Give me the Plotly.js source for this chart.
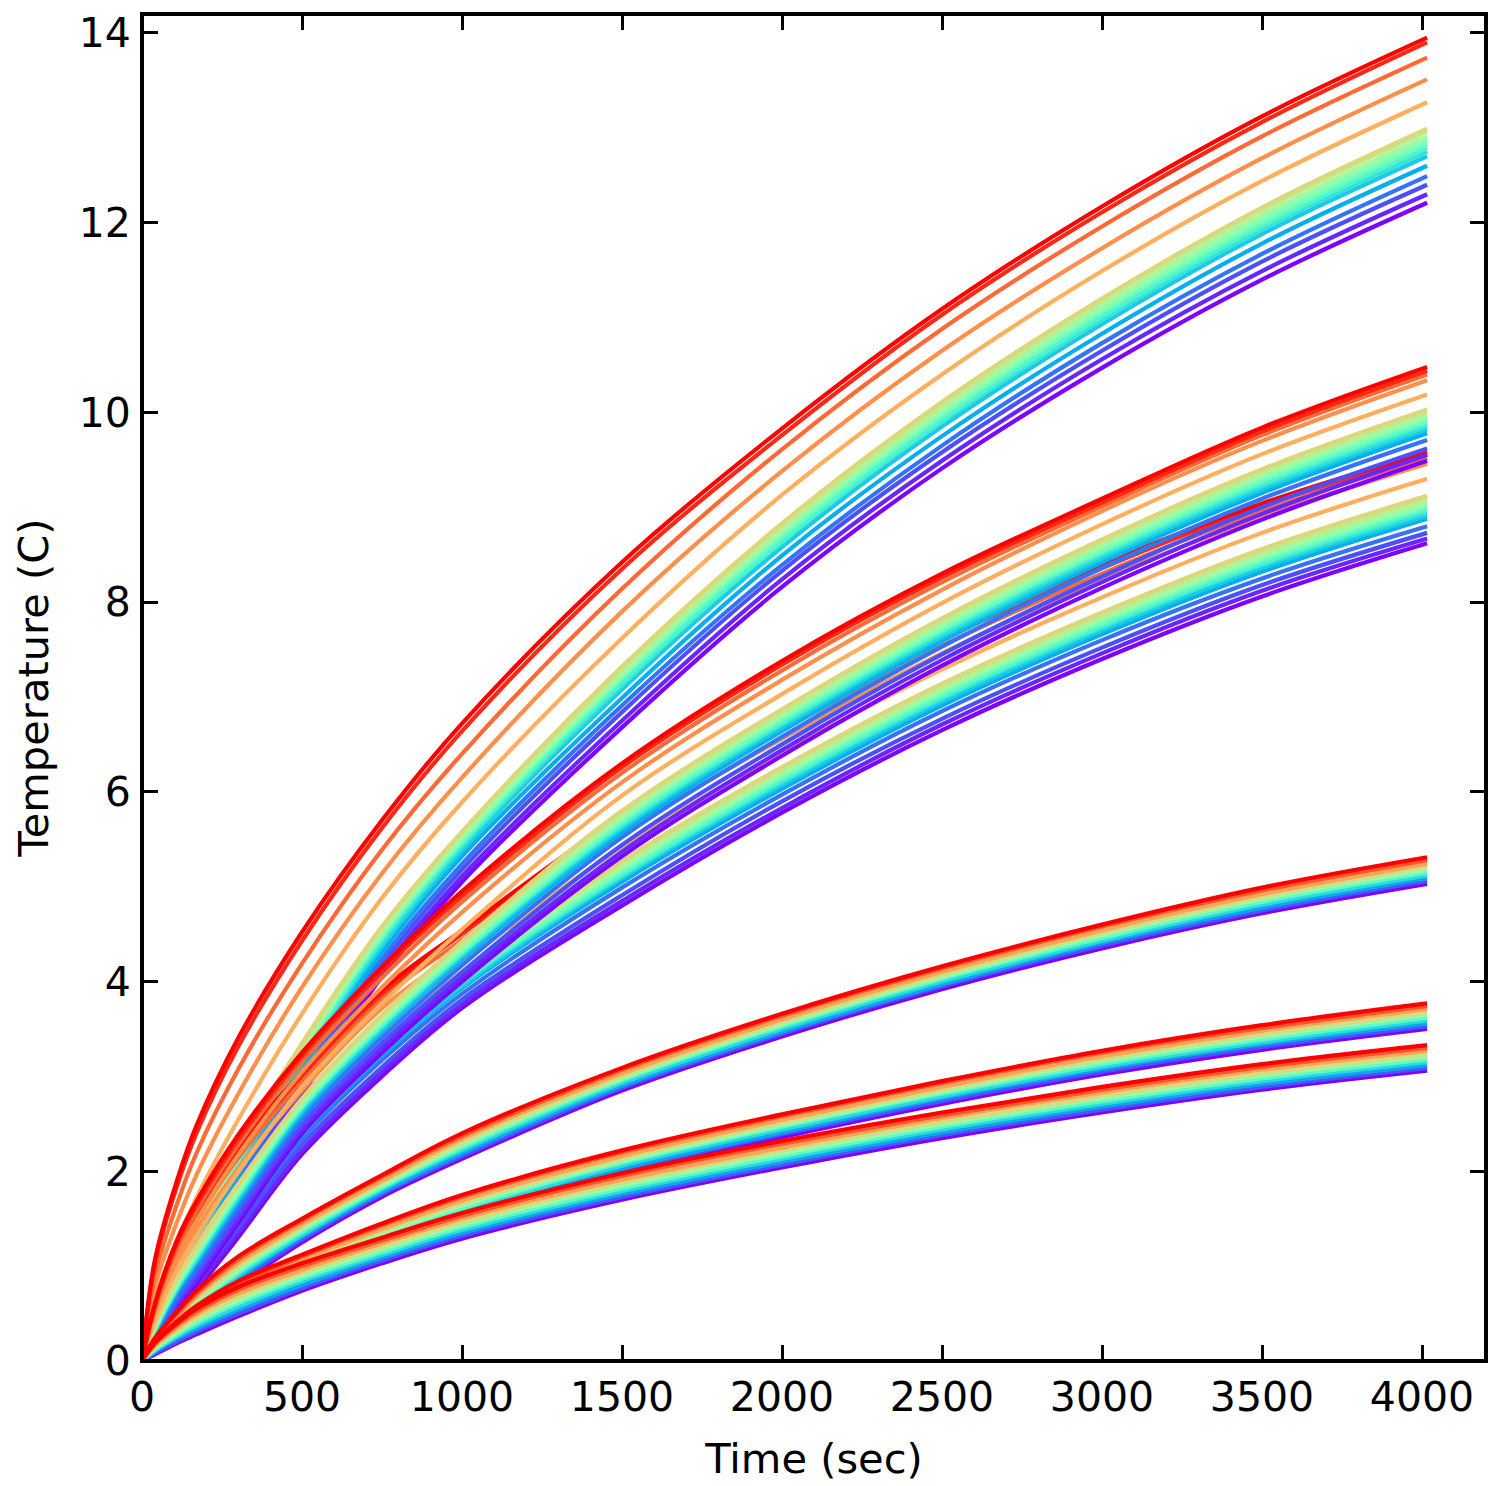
<!DOCTYPE html>
<html>
<head>
<meta charset="utf-8">
<script src="https://cdn.plot.ly/plotly-3.0.1.min.js"></script>
<style>html,body{margin:0;padding:0;background:#fff}</style>
</head>
<body>
<div id="graph" style="width:1495px;height:1486px"></div>
<script>
// sample times, all curves start at (0, 0)
const times = [40, 110, 170, 300, 500, 750, 1000, 1500, 2000, 2500, 3000, 3500, 4016];

// each row is one sample time, each column one curve (violet -> red)
const bandA = [
  [.23,.26,.30,.33,.36,.40,.41,.43,.45,.45,.47,.49,.50,.65,.78,.90,1.02,1.06],
  [.62,.67,.72,.77,.83,.88,.90,.93,.96,.97,.99,1.02,1.03,1.27,1.47,1.66,1.85,1.91],
  [.95,1.00,1.07,1.13,1.19,1.26,1.29,1.32,1.35,1.36,1.39,1.42,1.44,1.72,1.96,2.19,2.40,2.48],
  [1.68,1.74,1.82,1.88,1.96,2.03,2.07,2.10,2.14,2.16,2.19,2.23,2.25,2.54,2.81,3.07,3.31,3.40],
  [2.80,2.86,2.94,3.00,3.08,3.14,3.18,3.21,3.25,3.26,3.30,3.33,3.35,3.66,3.94,4.19,4.43,4.52],
  [4.05,4.11,4.18,4.24,4.31,4.38,4.41,4.45,4.48,4.50,4.53,4.56,4.58,4.88,5.14,5.39,5.62,5.70],
  [5.05,5.11,5.18,5.24,5.32,5.38,5.42,5.45,5.48,5.50,5.53,5.57,5.58,5.89,6.15,6.40,6.64,6.72],
  [6.68,6.75,6.84,6.91,6.99,7.08,7.12,7.15,7.20,7.22,7.25,7.29,7.32,7.62,7.90,8.14,8.35,8.42],
  [8.16,8.24,8.33,8.39,8.49,8.58,8.63,8.64,8.69,8.73,8.76,8.79,8.83,9.13,9.38,9.61,9.76,9.83],
  [9.41,9.49,9.58,9.65,9.75,9.85,9.90,9.92,9.97,10.00,10.03,10.07,10.11,10.40,10.65,10.88,11.03,11.09],
  [10.47,10.56,10.65,10.73,10.83,10.93,10.98,11.01,11.06,11.09,11.12,11.17,11.20,11.49,11.73,11.96,12.11,12.17],
  [11.40,11.49,11.59,11.67,11.78,11.88,11.93,11.96,12.00,12.04,12.08,12.13,12.16,12.44,12.68,12.91,13.06,13.12],
  [12.21,12.30,12.40,12.49,12.60,12.70,12.75,12.79,12.83,12.87,12.91,12.96,12.99,13.27,13.51,13.74,13.90,13.95]
];

const bandB = [
  [.20,.22,.24,.27,.30,.31,.32,.33,.34,.35,.36,.37,.38,.43,.51,.55,.58,.60],
  [.55,.59,.63,.68,.73,.75,.77,.78,.80,.82,.83,.86,.87,.97,1.11,1.19,1.24,1.28],
  [.82,.86,.91,.97,1.03,1.05,1.08,1.10,1.11,1.14,1.16,1.18,1.20,1.32,1.48,1.58,1.64,1.68],
  [1.45,1.50,1.55,1.62,1.67,1.70,1.73,1.75,1.77,1.79,1.81,1.84,1.86,1.99,2.17,2.27,2.33,2.38],
  [2.40,2.44,2.49,2.55,2.60,2.63,2.66,2.67,2.69,2.71,2.73,2.76,2.77,2.89,3.05,3.15,3.21,3.25],
  [3.25,3.30,3.35,3.41,3.47,3.49,3.52,3.54,3.56,3.58,3.60,3.63,3.65,3.77,3.94,4.04,4.11,4.15],
  [4.00,4.05,4.10,4.17,4.23,4.26,4.29,4.30,4.32,4.35,4.37,4.40,4.42,4.55,4.73,4.84,4.90,4.95],
  [5.32,5.37,5.44,5.52,5.57,5.61,5.64,5.66,5.69,5.72,5.74,5.77,5.80,5.96,6.10,6.20,6.26,6.30],
  [6.38,6.44,6.50,6.58,6.64,6.68,6.71,6.73,6.76,6.79,6.81,6.84,6.87,7.03,7.18,7.28,7.34,7.38],
  [7.33,7.39,7.45,7.53,7.59,7.63,7.66,7.69,7.71,7.74,7.77,7.80,7.83,7.99,8.13,8.21,8.26,8.30],
  [8.15,8.21,8.27,8.36,8.42,8.46,8.49,8.52,8.54,8.57,8.60,8.63,8.66,8.82,8.96,9.01,9.05,9.09],
  [8.87,8.93,9.00,9.09,9.15,9.19,9.22,9.25,9.28,9.31,9.34,9.37,9.40,9.56,9.70,9.76,9.80,9.84],
  [9.49,9.55,9.62,9.71,9.78,9.82,9.85,9.88,9.91,9.94,9.97,10.00,10.03,10.19,10.34,10.40,10.44,10.48]
];

const bandC = [
  [.17,.19,.21,.24,.26,.27,.28,.29,.30,.31,.32,.33,.34,.39,.46,.50,.53,.55],
  [.47,.51,.55,.60,.65,.67,.69,.70,.72,.74,.75,.78,.79,.89,1.03,1.11,1.16,1.20],
  [.74,.78,.83,.89,.94,.97,.99,1.01,1.03,1.05,1.07,1.09,1.11,1.23,1.39,1.48,1.54,1.58],
  [1.30,1.35,1.40,1.47,1.53,1.56,1.59,1.60,1.62,1.65,1.67,1.70,1.72,1.85,2.03,2.14,2.20,2.25],
  [2.18,2.22,2.28,2.34,2.39,2.41,2.44,2.46,2.48,2.50,2.52,2.55,2.56,2.68,2.85,2.95,3.01,3.05],
  [3.00,3.05,3.10,3.17,3.22,3.25,3.28,3.30,3.32,3.34,3.36,3.39,3.41,3.54,3.72,3.82,3.87,3.91],
  [3.72,3.76,3.81,3.87,3.93,3.95,3.98,4.00,4.01,4.04,4.06,4.08,4.10,4.20,4.34,4.44,4.50,4.54],
  [4.80,4.85,4.91,4.99,5.05,5.09,5.11,5.13,5.16,5.19,5.21,5.24,5.27,5.42,5.56,5.66,5.71,5.75],
  [5.78,5.83,5.90,5.97,6.03,6.07,6.10,6.12,6.15,6.18,6.20,6.23,6.26,6.41,6.56,6.65,6.71,6.75],
  [6.65,6.71,6.77,6.85,6.91,6.95,6.98,7.00,7.03,7.06,7.08,7.11,7.14,7.29,7.46,7.54,7.60,7.64],
  [7.40,7.46,7.52,7.60,7.66,7.70,7.73,7.75,7.78,7.81,7.83,7.86,7.89,8.05,8.24,8.30,8.36,8.40],
  [8.06,8.12,8.18,8.25,8.32,8.36,8.39,8.41,8.44,8.47,8.49,8.53,8.56,8.73,8.90,8.96,9.01,9.04],
  [8.62,8.67,8.73,8.80,8.88,8.91,8.94,8.97,9.00,9.02,9.05,9.09,9.12,9.30,9.46,9.52,9.56,9.58]
];

const bandD = [
  [.13,.14,.15,.17,.18,.19,.20,.21,.23,.24],
  [.33,.35,.37,.39,.41,.43,.45,.47,.50,.52],
  [.48,.51,.54,.57,.59,.62,.65,.68,.71,.74],
  [.80,.83,.87,.90,.93,.96,.99,1.03,1.07,1.10],
  [1.25,1.28,1.31,1.33,1.36,1.39,1.41,1.44,1.48,1.50],
  [1.73,1.76,1.78,1.81,1.83,1.85,1.88,1.90,1.94,1.96],
  [2.13,2.16,2.19,2.22,2.25,2.28,2.30,2.34,2.37,2.40],
  [2.85,2.88,2.90,2.93,2.96,2.98,3.00,3.03,3.07,3.09],
  [3.42,3.45,3.47,3.50,3.53,3.55,3.57,3.60,3.64,3.66],
  [3.92,3.95,3.97,4.00,4.03,4.05,4.07,4.10,4.14,4.16],
  [4.35,4.38,4.41,4.43,4.46,4.49,4.51,4.54,4.58,4.60],
  [4.72,4.75,4.78,4.81,4.84,4.87,4.89,4.92,4.96,4.99],
  [5.03,5.06,5.09,5.12,5.15,5.18,5.21,5.24,5.28,5.31]
];

const bandE = [
  [.09,.10,.11,.13,.14,.15,.16,.17,.19,.20],
  [.24,.26,.28,.30,.32,.34,.36,.38,.40,.42],
  [.35,.38,.40,.43,.45,.47,.50,.52,.56,.58],
  [.58,.61,.64,.67,.69,.72,.75,.78,.81,.84],
  [.90,.92,.95,.97,1.00,1.02,1.04,1.07,1.10,1.12],
  [1.22,1.25,1.27,1.30,1.32,1.34,1.37,1.39,1.43,1.45],
  [1.50,1.53,1.56,1.58,1.61,1.64,1.66,1.69,1.73,1.75],
  [1.98,2.01,2.03,2.06,2.09,2.11,2.13,2.16,2.20,2.22],
  [2.36,2.39,2.41,2.44,2.47,2.49,2.51,2.54,2.58,2.60],
  [2.71,2.74,2.77,2.79,2.82,2.84,2.86,2.89,2.93,2.95],
  [3.02,3.05,3.08,3.10,3.13,3.16,3.18,3.21,3.25,3.27],
  [3.28,3.31,3.34,3.36,3.39,3.42,3.44,3.48,3.51,3.54],
  [3.50,3.53,3.56,3.59,3.62,3.65,3.67,3.71,3.74,3.77]
];

const bandF = [
  [.07,.08,.10,.11,.12,.13,.15,.16,.18,.19],
  [.19,.21,.24,.26,.28,.30,.32,.35,.38,.40],
  [.28,.31,.34,.37,.40,.43,.45,.49,.52,.55],
  [.47,.50,.54,.57,.61,.64,.67,.71,.75,.78],
  [.74,.77,.80,.84,.87,.90,.93,.96,1.00,1.03],
  [1.03,1.06,1.09,1.12,1.15,1.18,1.20,1.24,1.27,1.30],
  [1.29,1.32,1.35,1.38,1.41,1.44,1.46,1.50,1.53,1.56],
  [1.70,1.73,1.76,1.79,1.82,1.85,1.88,1.91,1.95,1.98],
  [2.04,2.07,2.10,2.13,2.16,2.19,2.22,2.25,2.29,2.32],
  [2.35,2.38,2.41,2.44,2.47,2.50,2.52,2.56,2.59,2.62],
  [2.62,2.65,2.68,2.71,2.74,2.77,2.79,2.83,2.86,2.89],
  [2.86,2.89,2.92,2.95,2.98,3.01,3.03,3.07,3.10,3.13],
  [3.06,3.09,3.12,3.15,3.18,3.21,3.23,3.27,3.30,3.33]
];

// colormap positions of the curves in each band
const wideStops = [0,.05,.10,.15,.24,.295,.35,.405,.46,.515,.57,.625,.68,.76,.81,.865,.95,1];
const narrowStops = [0,.11,.22,.33,.44,.55,.66,.78,.89,1];

// same thing as matplotlib's rainbow
function rainbow(t) {
  const r = Math.abs(2 * t - 0.5);
  const g = Math.sin(Math.PI * t);
  const b = Math.cos(Math.PI * t / 2);
  return `rgb(${Math.round(r * 255)},${Math.round(g * 255)},${Math.round(b * 255)})`;
}

function bandTraces(band, stops) {
  return stops.map((t, i) => ({
    x: [0, ...times],
    y: [0, ...band.map(row => row[i])],
    mode: 'lines',
    line: {color: rainbow(t), width: 4.2, shape: 'spline', smoothing: 1},
    hoverinfo: 'skip',
    showlegend: false
  }));
}

const traces = [
  ...bandTraces(bandA, wideStops),
  ...bandTraces(bandC, wideStops),
  ...bandTraces(bandB, wideStops),
  ...bandTraces(bandD, narrowStops),
  ...bandTraces(bandE, narrowStops),
  ...bandTraces(bandF, narrowStops)
];

const axisStyle = {
  showgrid: false,
  zeroline: false,
  showline: true,
  mirror: 'ticks',
  linecolor: '#000',
  linewidth: 1,
  ticks: 'inside',
  ticklen: 16,
  tickwidth: 2.5,
  tickcolor: '#000',
  tickfont: {family: 'DejaVu Sans', size: 41, color: '#000'}
};

const titleFont = {family: 'DejaVu Sans', size: 41.6, color: '#000'};

const layout = {
  width: 1495,
  height: 1486,
  margin: {l: 142, r: 9, t: 14, b: 125, pad: 0},
  paper_bgcolor: '#fff',
  plot_bgcolor: '#fff',
  showlegend: false,
  xaxis: {
    ...axisStyle,
    range: [0, 4200],
    tick0: 0,
    dtick: 500,
    title: {text: 'Time (sec)', font: titleFont, standoff: 23}
  },
  yaxis: {
    ...axisStyle,
    range: [0, 14.2],
    tick0: 0,
    dtick: 2,
    ticklabelstandoff: 2,
    title: {text: 'Temperature (C)', font: titleFont, standoff: 17}
  },
  // heavy frame centred on the plot edge
  shapes: [{
    type: 'rect', xref: 'paper', yref: 'paper', x0: 0, x1: 1, y0: 0, y1: 1,
    line: {color: '#000', width: 4}, layer: 'above'
  }]
};

Plotly.newPlot('graph', traces, layout, {displayModeBar: false, responsive: false});
</script>
</body>
</html>
